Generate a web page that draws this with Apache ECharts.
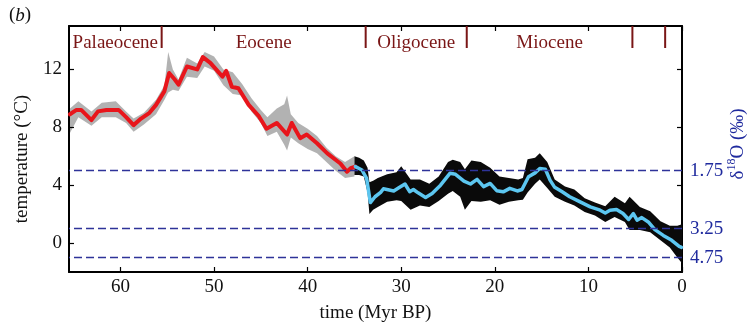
<!DOCTYPE html>
<html><head><meta charset="utf-8">
<script src="https://cdn.jsdelivr.net/npm/echarts@6/dist/echarts.min.js"></script>
<style>html,body{margin:0;padding:0;background:#fff}#c{width:750px;height:323px}</style>
</head><body><div id="c"></div>
<script>
// ---------- data ----------
const xTicks = [0, 10, 20, 30, 40, 50, 60];
const yTicks = [0, 4, 8, 12];
const d18Temps = [5, 1, -1];
const d18Labels = ['1.75', '3.25', '4.75'];
const epochNames = ['Palaeocene', 'Eocene', 'Oligocene', 'Miocene'];
const epochBounds = [65.5, 55.6, 33.8, 23.0, 5.3, 1.8];

// smoothed temperature, Palaeocene-Eocene (red)
const redT = [65.4,64.7,64.2,63.1,62.4,61.5,60.2,59.4,58.6,57.8,56.9,56.2,55.3,54.8,54.2,53.8,52.9,51.8,51.2,50.4,49.1,48.7,48.1,47.4,46.3,45.2,44.4,43.3,42.2,41.7,40.8,40.1,39.0,37.9,36.5,35.8,35.4,34.9];
const redV = [8.9,9.2,9.2,8.5,9.1,9.2,9.2,8.7,8.15,8.6,9.0,9.55,10.5,11.75,11.3,10.95,12.2,12.0,12.85,12.45,11.5,11.9,10.8,10.7,9.55,8.75,7.9,8.3,7.5,8.3,7.25,7.5,6.9,6.2,5.5,4.93,5.17,5.28];

// smoothed temperature, Oligocene-present (light blue)
const blueT = [34.9,34.2,33.7,33.3,32.8,32.2,31.9,30.8,30.3,29.6,29.1,28.7,28.2,27.4,26.7,25.8,24.8,24.2,23.3,22.6,21.9,21.2,20.5,19.8,19.1,18.4,17.6,17.1,16.4,15.7,15.2,14.6,14.1,13.6,12.8,12.0,11.1,9.8,8.75,8.2,7.7,7.0,6.3,5.7,5.2,4.8,4.3,3.6,2.9,2.0,1.1,0.3,0.05];
const blueV = [5.28,5.05,4.47,2.8,3.2,3.5,3.75,3.6,3.8,4.08,3.55,3.7,3.47,3.15,3.43,4.0,4.82,4.75,4.28,4.08,4.4,3.9,4.12,3.62,3.54,3.78,3.6,3.7,4.58,4.85,5.15,5.1,4.35,3.85,3.54,3.2,2.92,2.5,2.27,2.08,2.27,2.32,2.04,1.63,2.04,1.58,1.76,1.46,0.93,0.53,0.19,-0.23,-0.3];

// spread of the raw data, sparse part (66-35 Myr)
const sparseT = [65.4,64.5,63.1,62.0,60.5,59.4,58.6,57.5,56.2,55.3,54.9,54.4,53.8,52.9,51.8,51.0,50.0,49.0,48.0,47.0,46.0,45.0,44.3,43.3,42.5,42.2,41.8,41.0,40.0,39.0,38.0,37.0,36.0,35.0];
const sparseHi = [9.3,9.8,9.1,9.7,9.8,9.1,8.6,9.0,9.9,10.9,13.2,12.0,11.3,12.8,12.4,13.2,12.9,12.0,11.8,11.0,10.0,9.2,8.7,9.3,9.6,10.2,8.9,8.3,7.9,7.4,6.6,6.0,5.6,6.0];
const sparseLo = [7.6,8.7,8.1,8.7,8.7,8.3,7.7,8.2,8.9,9.9,10.4,10.6,10.5,11.5,11.4,12.2,11.9,10.9,10.3,10.2,9.1,8.3,7.4,7.7,6.8,6.4,7.3,6.9,6.5,6.2,5.6,5.0,4.5,4.6];

// spread of the raw data, dense part (35-0 Myr)
const denseT = [35.0,34.5,34.0,33.6,33.4,33.0,32.5,31.5,30.5,30.0,29.0,28.0,27.0,26.0,25.0,24.5,23.7,23.2,22.5,21.5,20.5,19.5,18.5,17.5,17.0,16.5,15.7,15.2,14.4,13.6,12.5,11.5,10.4,9.3,8.2,7.2,6.1,5.6,4.5,3.4,2.3,1.3,0.5,0.0];
const denseHi = [6.0,5.9,5.7,5.2,4.2,4.3,4.5,4.75,4.9,5.3,4.4,4.4,4.1,4.6,5.6,5.75,5.6,5.1,5.7,5.6,5.2,4.6,4.5,4.4,4.5,5.8,5.9,6.2,5.6,4.4,3.9,3.7,3.1,2.8,2.55,3.2,2.75,3.2,2.5,2.2,1.5,1.2,1.2,1.3];
const denseLo = [4.7,4.7,4.6,3.5,2.0,2.3,2.5,2.85,2.95,2.9,2.3,2.6,2.5,2.9,3.4,3.6,3.2,2.3,2.9,2.85,2.95,2.65,2.85,2.95,3.0,3.5,4.1,4.4,3.8,3.2,2.85,2.6,2.15,1.9,1.45,1.8,1.45,0.9,0.9,0.75,0.2,-0.3,-1.0,-1.4];

// ---------- chart ----------
const FONT = '"Liberation Serif", "Times New Roman", serif';
const FS = 19;
const X_MIN = 0, X_MAX = 65.5, Y_MIN = -2, Y_MAX = 15;
const epochColor = '#7a1616';
const dashColor = '#2e3399';
const d18Color = '#1f2a9e';

function pairs(a, b) { return a.map((t, i) => [t, b[i]]); }

function band(ts, lo, hi, fill, z) {
  return {
    type: 'custom', coordinateSystem: 'cartesian2d', silent: true, z: z,
    data: ts.map((t, i) => [t, lo[i], hi[i]]),
    encode: { x: 0, y: [1, 2] },
    renderItem: function (params, api) {
      if (params.dataIndex !== 0) return null;
      const pts = [];
      for (let i = 0; i < ts.length; i++) pts.push(api.coord([ts[i], hi[i]]));
      for (let i = ts.length - 1; i >= 0; i--) pts.push(api.coord([ts[i], lo[i]]));
      return { type: 'polygon', shape: { points: pts }, style: { fill: fill } };
    }
  };
}

const axisLineStyle = { show: true, onZero: false, lineStyle: { color: '#000', width: 2 } };
const tickStyle = { color: '#000', width: 1.2 };

const chart = echarts.init(document.getElementById('c'), null, { renderer: 'canvas' });
chart.setOption({
  animation: false,
  backgroundColor: '#fff',
  textStyle: { fontFamily: FONT },
  grid: { left: 69, right: 68, top: 26, bottom: 51, containLabel: false, outerBoundsMode: 'none' },
  xAxis: [{
    type: 'value', inverse: true, min: X_MIN, max: X_MAX, position: 'bottom',
    axisLine: axisLineStyle, splitLine: { show: false },
    axisTick: { inside: true, length: 5, lineStyle: tickStyle, customValues: xTicks },
    axisLabel: { fontSize: FS, color: '#111', fontFamily: FONT, margin: 6, customValues: xTicks },
    name: 'time (Myr BP)', nameLocation: 'middle', nameGap: 32,
    nameTextStyle: { fontSize: FS, color: '#111', fontFamily: FONT }
  }, {
    type: 'value', inverse: true, min: X_MIN, max: X_MAX, position: 'top',
    axisLine: axisLineStyle, splitLine: { show: false },
    axisTick: { inside: true, length: 5, lineStyle: tickStyle, customValues: xTicks },
    axisLabel: { show: false }
  }],
  yAxis: [{
    type: 'value', min: Y_MIN, max: Y_MAX, position: 'left',
    axisLine: axisLineStyle, splitLine: { show: false },
    axisTick: { inside: true, length: 5, lineStyle: tickStyle, customValues: yTicks },
    axisLabel: { fontSize: FS, color: '#111', fontFamily: FONT, margin: 7, customValues: yTicks }
  }, {
    type: 'value', min: Y_MIN, max: Y_MAX, position: 'right',
    axisLine: axisLineStyle, splitLine: { show: false },
    axisTick: { inside: true, length: 5, lineStyle: tickStyle, customValues: yTicks },
    axisLabel: {
      fontSize: FS, color: d18Color, fontFamily: FONT, margin: 8, customValues: d18Temps,
      formatter: v => { const i = d18Temps.indexOf(v); return i >= 0 ? d18Labels[i] : ''; }
    }
  }],
  graphic: [
    { type: 'text', left: 9, top: 6, style: { text: '({i|b})', font: FS + 'px ' + FONT, fill: '#111',
      rich: { i: { fontStyle: 'italic', fontSize: FS, fontFamily: FONT, fill: '#111' } } } },
    { type: 'text', x: 22, y: 159, rotation: Math.PI / 2,
      style: { text: 'temperature (°C)', font: FS + 'px ' + FONT, fill: '#111', align: 'center', verticalAlign: 'middle' } },
    { type: 'text', x: 737, y: 144, rotation: Math.PI / 2,
      style: { text: '{n|δ}{s|18}{n|O (‰)}', align: 'center', verticalAlign: 'middle',
        rich: {
          n: { fontSize: FS, fontFamily: FONT, fill: d18Color, lineHeight: 22, verticalAlign: 'bottom' },
          s: { fontSize: 12, fontFamily: FONT, fill: d18Color, lineHeight: 13, verticalAlign: 'top' }
        } } }
  ],
  series: [
    { type: 'line', data: [], silent: true, z: 1,
      markLine: { silent: true, symbol: 'none', label: { show: false }, animation: false,
        lineStyle: { type: [8, 4], color: dashColor, width: 1.3 },
        data: d18Temps.map(v => ({ yAxis: v })) } },
    band(sparseT, sparseLo, sparseHi, 'rgba(0,0,0,0.3)', 2),
    band(denseT, denseLo, denseHi, '#0a0a0a', 2),
    { type: 'line', data: pairs(redT, redV), showSymbol: false, silent: true, z: 4,
      lineStyle: { color: '#e8151b', width: 4, join: 'round', cap: 'round' } },
    { type: 'line', data: pairs(blueT, blueV), showSymbol: false, silent: true, z: 4,
      lineStyle: { color: '#5cc6f0', width: 3.5, join: 'round', cap: 'round' } },
    { type: 'custom', silent: true, z: 6,
      data: epochBounds.slice(1).map(t => [t, Y_MAX]),
      encode: { x: 0, y: 1 },
      renderItem: function (params, api) {
        const p = api.coord([api.value(0), api.value(1)]);
        return { type: 'line', shape: { x1: p[0], y1: p[1], x2: p[0], y2: p[1] + 22 },
          style: { stroke: epochColor, lineWidth: 2 } };
      } },
    { type: 'custom', silent: true, z: 6,
      data: epochNames.map((n, i) => [(epochBounds[i] + epochBounds[i + 1]) / 2, Y_MAX]),
      encode: { x: 0, y: 1 },
      renderItem: function (params, api) {
        const p = api.coord([api.value(0), api.value(1)]);
        return { type: 'text', x: p[0], y: p[1] + 17,
          style: { text: epochNames[params.dataIndex], font: FS + 'px ' + FONT, fill: epochColor,
            align: 'center', verticalAlign: 'middle' } };
      } }
  ]
});
</script></body></html>
